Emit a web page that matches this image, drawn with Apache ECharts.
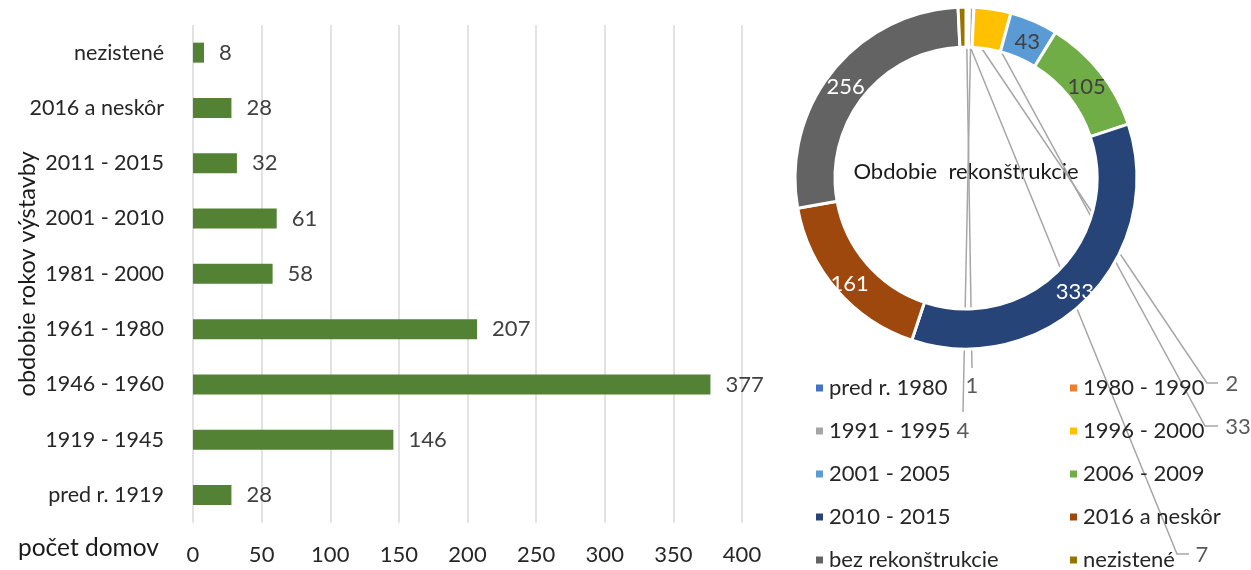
<!DOCTYPE html>
<html><head><meta charset="utf-8">
<script src="https://cdn.jsdelivr.net/npm/echarts@6/dist/echarts.min.js"></script>
<style>html,body{margin:0;padding:0;background:#fff}#c{width:1251px;height:570px}</style>
</head><body><div id="c"></div>
<script>
// ---- data ----
const buildCategories = ['pred r. 1919','1919 - 1945','1946 - 1960','1961 - 1980','1981 - 2000','2001 - 2010','2011 - 2015','2016 a neskôr','nezistené'];
const buildCounts = [28,146,377,207,58,61,32,28,8];
const xAxisMin = 0, xAxisMax = 400, xAxisStep = 50;
const renoNames = ['pred r. 1980','1980 - 1990','1991 - 1995','1996 - 2000','2001 - 2005','2006 - 2009','2010 - 2015','2016 a neskôr','bez rekonštrukcie','nezistené'];
const renoCounts = [1,2,4,33,43,105,333,161,256,7];
const renoColors = ['#4472C4','#ED7D31','#A5A5A5','#FFC000','#5B9BD5','#70AD47','#264478','#9E480E','#636363','#997300'];
const legendLeft = ['pred r. 1980','1991 - 1995','2001 - 2005','2010 - 2015','bez rekonštrukcie'];
const legendRight = ['1980 - 1990','1996 - 2000','2006 - 2009','2016 a neskôr','nezistené'];

// ---- layout / style ----
const FONT = 'Lato';
const FS = 22;
const FS_TITLE = 24.5;
const PIE_C = [966, 178];
const R_IN = 131, R_OUT = 171, R_MID = 150;
const darkInside = {4:true,5:true};
const outsideIdx = {0:true,1:true,2:true,3:true,9:true};
const outsidePlacement = {
  0: {pos:[972,386], line:[[972,368],[972,368]]},
  1: {pos:[1232,384], line:[[1207,383],[1218,383]]},
  2: {pos:[963,431], line:[[963,412],[963,412]]},
  3: {pos:[1238,427], line:[[1205,426],[1218,426]]},
  9: {pos:[1202,555], line:[[1177,554],[1189,554]]}
};

const total = renoCounts.reduce((a,b)=>a+b,0);
const mids = []; let acc = 0;
renoCounts.forEach(v => { mids.push(acc + v/2); acc += v; });
function startPoint(i){
  const a = mids[i] / total * 2 * Math.PI;
  return [PIE_C[0] + R_MID*Math.sin(a), PIE_C[1] - R_MID*Math.cos(a)];
}

const pieData = renoNames.map((n,i) => {
  const d = {name:n, value:renoCounts[i], itemStyle:{color:renoColors[i]}};
  if (outsideIdx[i]) {
    d.label = {position:'outside', color:'#595959'};
    d.labelLine = {show:true, lineStyle:{color:'#A6A6A6', width:1.5}};
  } else {
    d.label = {position:'inside', color: darkInside[i] ? '#404040' : '#ffffff'};
  }
  return d;
});

const chart = echarts.init(document.getElementById('c'), null, {renderer:'canvas'});
const legendCommon = {
  orient:'vertical', icon:'rect', itemWidth:9, itemHeight:9, itemGap:21, height:240,
  textStyle:{fontFamily:FONT, fontSize:FS, color:'#262626'},
  selectedMode:false, top:377, padding:0
};
chart.setOption({
  animation:false,
  textStyle:{fontFamily:FONT},
  grid:{left:193, top:25, width:549, height:497.7, containLabel:false, outerBoundsMode:'none'},
  xAxis:{
    type:'value', min:xAxisMin, max:xAxisMax, interval:xAxisStep,
    axisLine:{show:false}, axisTick:{show:false},
    splitLine:{show:true, lineStyle:{color:'#D9D9D9', width:1.5}},
    axisLabel:{fontFamily:FONT, fontSize:FS, color:'#262626', margin:21}
  },
  yAxis:{
    type:'category', data:buildCategories,
    axisLine:{show:false}, axisTick:{show:false},
    axisLabel:{fontFamily:FONT, fontSize:21.5, color:'#262626', margin:29},
    name:'obdobie rokov výstavby', nameLocation:'middle', nameRotate:90, nameGap:154,
    nameMoveOverlap:false,
    nameTextStyle:{fontFamily:FONT, fontSize:FS_TITLE - 1, color:'#1a1a1a'}
  },
  legend:[
    Object.assign({}, legendCommon, {left:814, data:legendLeft}),
    Object.assign({}, legendCommon, {left:1068, data:legendRight})
  ],
  graphic:[
    {type:'text', x:PIE_C[0], y:172, style:{text:'Obdobie  rekonštrukcie', align:'center', verticalAlign:'middle', font:FS+'px '+FONT, fill:'#1a1a1a'}},
    {type:'text', x:18, y:548, style:{text:'počet domov', align:'left', verticalAlign:'middle', font:FS_TITLE+'px '+FONT, fill:'#1a1a1a'}}
  ],
  series:[
    {
      type:'bar', data:buildCounts, barWidth:20,
      itemStyle:{color:'#548235'},
      label:{show:true, position:'right', distance:15, fontFamily:FONT, fontSize:FS, color:'#404040'}
    },
    {
      type:'pie', center:PIE_C, radius:[R_IN, R_OUT], startAngle:90, clockwise:true,
      avoidLabelOverlap:false,
      itemStyle:{borderColor:'#ffffff', borderWidth:3},
      label:{show:true, position:'inside', formatter:'{c}', fontFamily:FONT, fontSize:FS},
      labelLine:{show:false},
      labelLayout:function(p){
        const o = outsidePlacement[p.dataIndex];
        if (!o) return {dy:5};
        return {x:o.pos[0], y:o.pos[1], align:'center', verticalAlign:'middle',
          labelLinePoints:[startPoint(p.dataIndex), o.line[0], o.line[1]]};
      },
      emphasis:{disabled:true},
      data:pieData
    }
  ]
});
</script>
</body></html>
